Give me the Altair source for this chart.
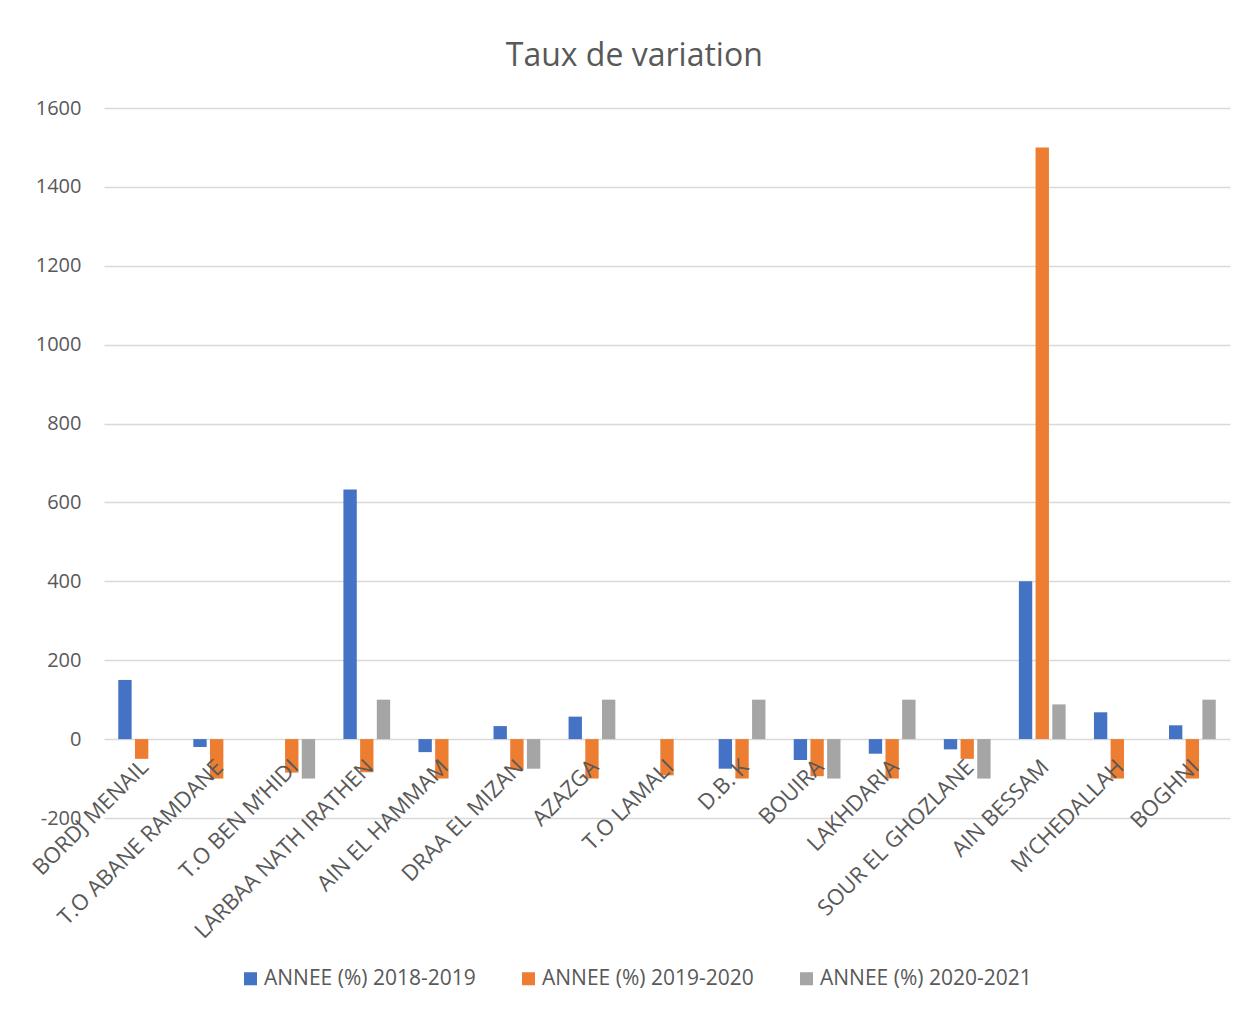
import altair as alt
import pandas as pd

categories = [
    "BORDJ MENAIL", "T.O ABANE RAMDANE", "T.O BEN M’HIDI", "LARBAA NATH IRATHEN",
    "AIN EL HAMMAM", "DRAA EL MIZAN", "AZAZGA", "T.O LAMALI", "D.B. K", "BOUIRA",
    "LAKHDARIA", "SOUR EL GHOZLANE", "AIN BESSAM", "M’CHEDALLAH", "BOGHNI",
]
series_names = ["ANNEE (%) 2018-2019", "ANNEE (%) 2019-2020", "ANNEE (%) 2020-2021"]
v_2018_2019 = [150, -20, 0, 633, -33, 33, 57, 0, -75, -53, -37, -26, 400, 68, 35]
v_2019_2020 = [-50, -100, -85, -84, -100, -77, -100, -92, -100, -94, -100, -50, 1500, -100, -100]
v_2020_2021 = [0, 0, -100, 100, 0, -75, 100, 0, 100, -100, 100, -100, 88, 0, 100]
colors = ["#4472C4", "#ED7D31", "#A5A5A5"]

rows = []
for name, vals in zip(series_names, [v_2018_2019, v_2019_2020, v_2020_2021]):
    for c, v in zip(categories, vals):
        rows.append({"Commune": c, "Serie": name, "Valeur": v})
df = pd.DataFrame(rows)

FONT = "Open Sans"
TXT = "#595959"

chart = alt.Chart(df).mark_bar().encode(
    x=alt.X("Commune:N", sort=categories,
            scale=alt.Scale(paddingInner=0.377, paddingOuter=0.19),
            axis=alt.Axis(title=None, labelAngle=-45, labelAlign="right",
                          labelBaseline="top", labelPadding=17, labelOffset=-4,
                          offset=-79,
                          domain=False, ticks=False, labelFont=FONT,
                          labelFontSize=22, labelColor=TXT, labelOverlap=False,
                          labelLimit=0, zindex=1)),
    xOffset=alt.XOffset("Serie:N", sort=series_names,
                        scale=alt.Scale(paddingInner=0.2, paddingOuter=0)),
    y=alt.Y("Valeur:Q",
            scale=alt.Scale(domain=[-200, 1600], nice=False, zero=True),
            axis=alt.Axis(title=None, values=list(range(-200, 1601, 200)),
                          labelExpr="datum.value + ''",
                          domain=False, ticks=False, labelPadding=23,
                          labelFont=FONT, labelFontSize=20, labelColor=TXT,
                          gridColor="#D9D9D9", gridWidth=1.5)),
    color=alt.Color("Serie:N", sort=series_names,
                    scale=alt.Scale(domain=series_names, range=colors),
                    legend=alt.Legend(title=None, orient="none", direction="horizontal",
                                      legendX=136, legendY=860, symbolType="square",
                                      symbolSize=170, symbolStrokeWidth=0,
                                      labelFont=FONT, labelFontSize=21,
                                      labelColor=TXT, labelOffset=3,
                                      columnPadding=42, padding=0,
                                      labelLimit=0)),
).properties(
    width=1126,
    height=710,
    title=alt.Title("Taux de variation", font=FONT, fontSize=32,
                    fontWeight="normal", color=TXT, anchor="middle",
                    frame="bounds", offset=25, dx=5),
    autosize=alt.AutoSizeParams(type="none"),
    padding={"left": 96, "top": 100, "right": 10, "bottom": 180},
).configure_view(stroke=None)

chart.save("out.html", embed_options={"renderer": "svg", "actions": False})
